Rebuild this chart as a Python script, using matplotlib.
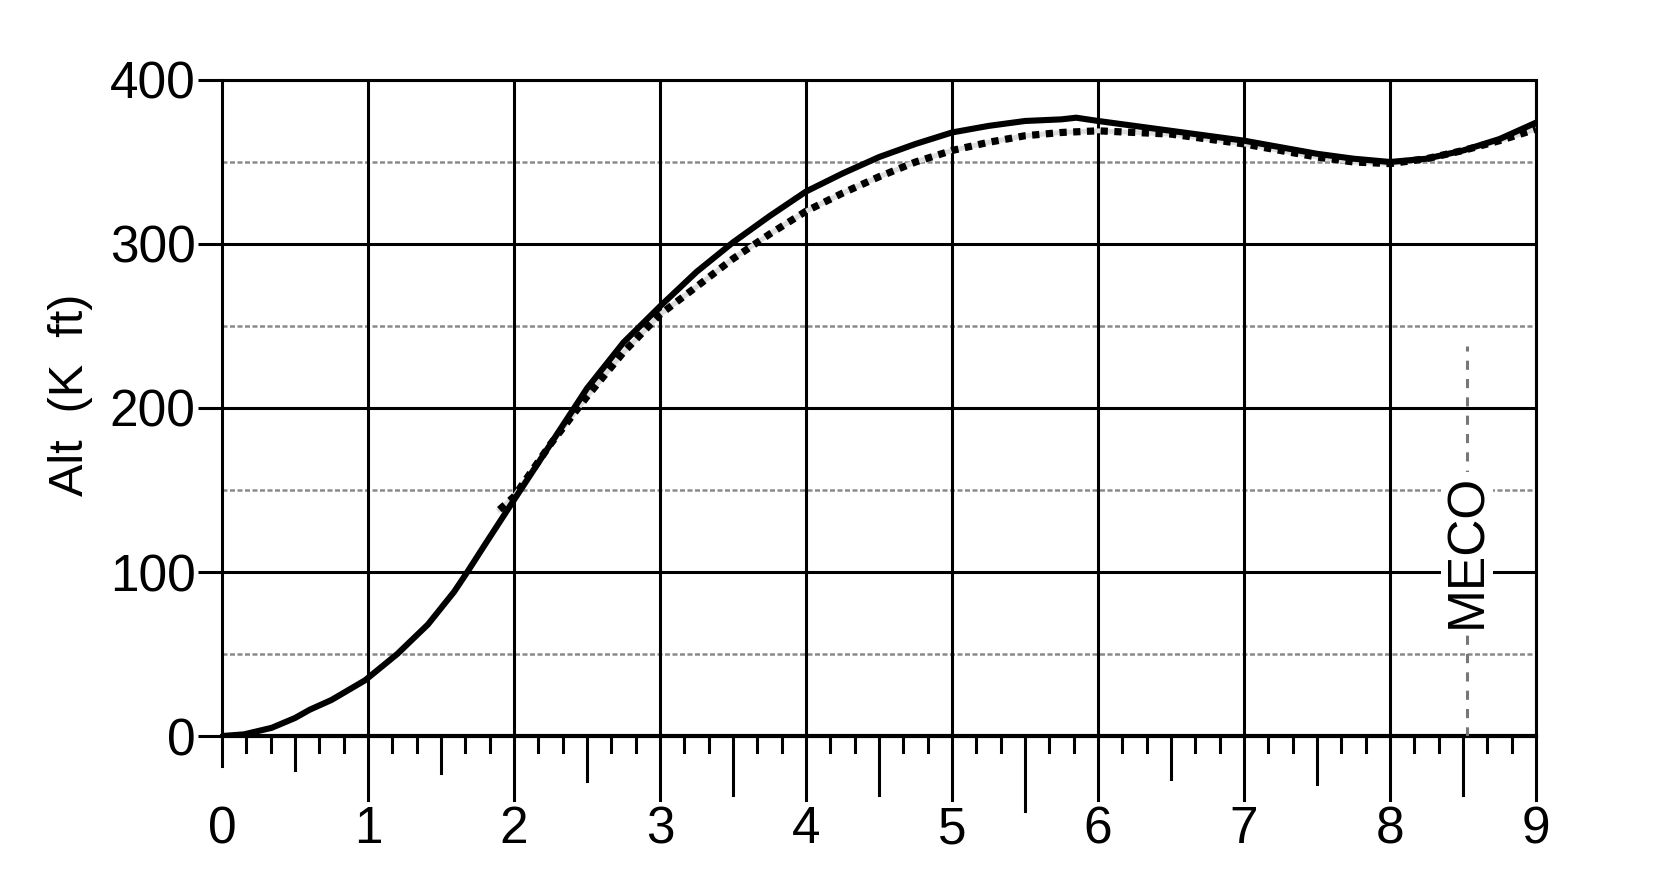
import numpy as np
import matplotlib
matplotlib.use("Agg")
import matplotlib.pyplot as plt

plt.rcParams['font.family'] = ['Liberation Sans', 'DejaVu Sans']

# Solid trajectory (time in minutes, altitude in K ft)
t_solid = [0, 0.15, 0.34, 0.5, 0.6, 0.75, 0.98, 1.2, 1.41, 1.59, 1.68, 1.81,
           2.0, 2.25, 2.5, 2.75, 3.0, 3.25, 3.5, 3.75, 4.0, 4.25, 4.5, 4.75,
           5.0, 5.25, 5.5, 5.75, 5.85, 6.0, 6.25, 6.5, 6.75, 7.0, 7.25, 7.5,
           7.75, 8.0, 8.25, 8.5, 8.75, 9.0]
alt_solid = [0, 1, 5, 11, 16, 22, 34, 50, 68, 88, 100, 118,
             144, 178, 212, 240, 262, 283, 301, 317, 332, 343, 353, 361,
             368, 372, 375, 376, 377, 375, 372, 369, 366, 363, 359, 355,
             352, 350, 352, 357, 364, 374]

# Dashed trajectory
t_dash = [1.9, 2.0, 2.25, 2.5, 2.75, 3.0, 3.25, 3.5, 3.75, 4.0, 4.25, 4.5,
          4.75, 5.0, 5.25, 5.5, 5.75, 6.0, 6.25, 6.5, 6.75, 7.0, 7.25, 7.5,
          7.75, 8.0, 8.25, 8.5, 8.75, 9.0]
alt_dash = [138, 146, 178, 207, 234, 257, 274, 291, 306, 320, 331, 341,
            350, 357, 362, 366, 368, 369, 368, 367, 364, 361, 357, 353,
            350, 349, 352, 357, 363, 370]

meco_t = 8.53
meco_top = 238
x_major = list(range(0, 10))
y_major = [0, 100, 200, 300, 400]
y_minor = [50, 150, 250, 350]

fig = plt.figure(figsize=(16.72, 8.76), dpi=100)
ax = fig.add_axes([0.1328, 0.1598, 0.7859, 0.7489])
ax.set_xlim(0, 9)
ax.set_ylim(0, 400)

# grid
for y in y_minor:
    ax.axhline(y, color='#8a8a8a', lw=1.8, ls=(0, (2, 1)), zorder=1)
for y in y_major[1:]:
    ax.axhline(y, color='black', lw=2.2, zorder=2)
for x in x_major[1:]:
    ax.axvline(x, color='black', lw=2.2, zorder=2)

# MECO marker
ax.plot([meco_t, meco_t], [0, meco_top], color='#777777', lw=2.2,
        ls=(0, (3, 3)), zorder=3)
ax.text(meco_t, 113, 'MECO', rotation=90, ha='center', va='center',
        fontsize=37, zorder=4,
        bbox=dict(facecolor='white', edgecolor='none', pad=1))

# curves
ax.plot(t_dash, alt_dash, color='#dddddd', lw=3.5, zorder=5)
ax.plot(t_dash, alt_dash, color='black', lw=5.2, ls=(0, (1.0, 0.9)), zorder=6)
ax.plot(t_solid, alt_solid, color='black', lw=4.4, zorder=7,
        solid_joinstyle='round')

for s in ax.spines.values():
    s.set_linewidth(2.2)
    s.set_color('black')
ax.spines['bottom'].set_linewidth(3)

# y axis
ax.set_yticks(y_major)
ax.tick_params(axis='y', direction='out', length=17, width=2.2, pad=2,
               labelsize=37)
ax.set_ylabel('Alt  (K  ft)', fontsize=35)
ax.yaxis.set_label_coords(-0.098, 0.52)

# x axis: hand-drawn ruler ticks
ax.set_xticks(x_major)
ax.tick_params(axis='x', length=0, pad=50, labelsize=37)
trans = ax.get_xaxis_transform()
ax_h = 656.0
major_len = [30, 64, 64, 64, 64, 64, 64, 64, 64, 64]
half_len = [34, 37, 45, 59, 59, 75, 43, 48, 59]
for x, L in zip(x_major, major_len):
    ax.plot([x, x], [0, -L / ax_h], transform=trans, color='black',
            lw=2.2, clip_on=False, zorder=8)
for i, L in enumerate(half_len):
    x = i + 0.5
    ax.plot([x, x], [0, -L / ax_h], transform=trans, color='black',
            lw=2.2, clip_on=False, zorder=8)
for i in range(9):
    for k in [1, 2, 4, 5]:
        x = i + k / 6
        ax.plot([x, x], [0, -16 / ax_h], transform=trans, color='black',
                lw=2.2, clip_on=False, zorder=8)

fig.savefig('out.png', dpi=100)
